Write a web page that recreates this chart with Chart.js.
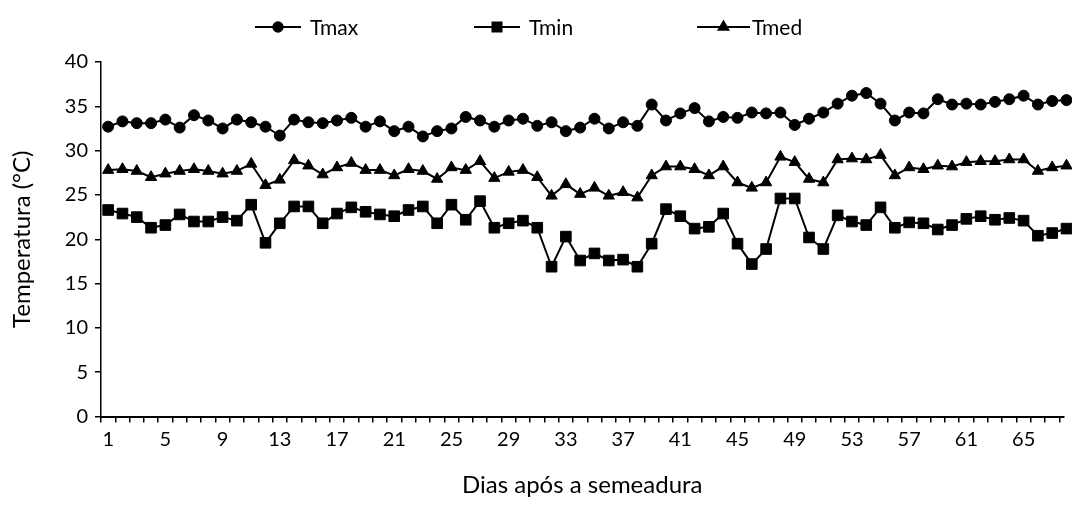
<!DOCTYPE html>
<html>
<head>
<meta charset="utf-8">
<title>Temperatura do ar</title>
<script src="https://cdn.jsdelivr.net/npm/chart.js@4.4.1/dist/chart.umd.min.js"></script>
<style>
  html, body { margin: 0; padding: 0; background: #fff; overflow: hidden; }
  #wrap { position: relative; width: 1072px; height: 505px; }
</style>
</head>
<body>
<div id="wrap"><canvas id="tempChart" width="1072" height="505"></canvas></div>
<script>
// dias após a semeadura
const days = [
  1, 2, 3, 4, 5, 6, 7, 8, 9, 10, 11, 12, 13, 14, 15, 16, 17,
  18, 19, 20, 21, 22, 23, 24, 25, 26, 27, 28, 29, 30, 31, 32, 33, 34,
  35, 36, 37, 38, 39, 40, 41, 42, 43, 44, 45, 46, 47, 48, 49, 50, 51,
  52, 53, 54, 55, 56, 57, 58, 59, 60, 61, 62, 63, 64, 65, 66, 67, 68
];
const dayTicks = [1, 5, 9, 13, 17, 21, 25, 29, 33, 37, 41, 45, 49, 53, 57, 61, 65];
const tempTicks = [0, 5, 10, 15, 20, 25, 30, 35, 40];

const tmax = [
  32.7, 33.3, 33.1, 33.1, 33.5, 32.6, 34.0, 33.4, 32.5, 33.5, 33.2, 32.7, 31.7, 33.5, 33.2, 33.1, 33.4,
  33.7, 32.7, 33.3, 32.2, 32.7, 31.6, 32.2, 32.5, 33.8, 33.4, 32.7, 33.4, 33.6, 32.8, 33.2, 32.2, 32.6,
  33.6, 32.5, 33.2, 32.8, 35.2, 33.4, 34.2, 34.8, 33.3, 33.8, 33.7, 34.3, 34.2, 34.3, 32.9, 33.6, 34.3,
  35.3, 36.2, 36.5, 35.3, 33.4, 34.3, 34.2, 35.8, 35.2, 35.3, 35.2, 35.5, 35.8, 36.2, 35.2, 35.6, 35.7
];
const tmin = [
  23.3, 22.9, 22.5, 21.3, 21.6, 22.8, 22.0, 22.0, 22.5, 22.1, 23.9, 19.6, 21.8, 23.7, 23.7, 21.8, 22.9,
  23.6, 23.1, 22.8, 22.6, 23.3, 23.7, 21.8, 23.9, 22.2, 24.3, 21.3, 21.8, 22.1, 21.3, 16.9, 20.3, 17.6,
  18.4, 17.6, 17.7, 16.9, 19.5, 23.4, 22.6, 21.2, 21.4, 22.9, 19.5, 17.2, 18.9, 24.6, 24.6, 20.2, 18.9,
  22.7, 22.0, 21.6, 23.6, 21.3, 21.9, 21.8, 21.1, 21.6, 22.3, 22.6, 22.2, 22.4, 22.1, 20.4, 20.7, 21.2
];
const tmed = [
  27.8, 27.9, 27.7, 27.0, 27.4, 27.7, 27.9, 27.7, 27.4, 27.7, 28.5, 26.1, 26.7, 28.9, 28.3, 27.3, 28.1,
  28.6, 27.8, 27.8, 27.2, 27.9, 27.7, 26.8, 28.1, 27.8, 28.8, 26.9, 27.6, 27.8, 27.0, 24.9, 26.2, 25.1,
  25.8, 24.9, 25.3, 24.7, 27.2, 28.2, 28.2, 27.9, 27.2, 28.2, 26.4, 25.8, 26.4, 29.3, 28.7, 26.8, 26.4,
  29.0, 29.1, 29.0, 29.5, 27.2, 28.1, 27.9, 28.3, 28.2, 28.7, 28.8, 28.8, 29.0, 29.0, 27.7, 28.1, 28.3
];

const FONT = "Lato, 'Open Sans', sans-serif";
Chart.defaults.font.family = FONT;
Chart.defaults.color = '#000';

// legenda em linha: traço + marcador + nome da série
const lineLegend = {
  id: 'lineLegend',
  afterDraw(chart, args, opts) {
    const ctx = chart.ctx;
    ctx.save();
    ctx.font = opts.fontSize + 'px ' + FONT;
    ctx.textBaseline = 'middle';
    chart.data.datasets.forEach((ds, i) => {
      const it = opts.items[i];
      const y = opts.y;
      ctx.strokeStyle = '#000';
      ctx.fillStyle = '#000';
      ctx.lineWidth = 2;
      ctx.beginPath();
      ctx.moveTo(it.x, y);
      ctx.lineTo(it.x + it.len, y);
      ctx.stroke();
      Chart.helpers.drawPoint(ctx, {
        pointStyle: ds.pointStyle, radius: ds.pointRadius * 0.85, borderWidth: 1, rotation: 0
      }, it.x + it.len / 2, y);
      ctx.fillText(ds.label, it.x + it.len + it.gap, y + 1);
    });
    ctx.restore();
  }
};

const serie = (label, data, style, radius) => ({
  label, data,
  borderColor: '#000',
  backgroundColor: '#000',
  borderWidth: 2,
  pointStyle: style,
  pointRadius: radius,
  pointBackgroundColor: '#000',
  pointBorderColor: '#000',
  pointBorderWidth: 1,
  tension: 0,
  clip: false
});

new Chart(document.getElementById('tempChart'), {
  type: 'line',
  data: {
    labels: days,
    datasets: [
      serie('Tmax', tmax, 'circle', 5.5),
      serie('Tmin', tmin, 'rect', 7.5),
      serie('Tmed', tmed, 'triangle', 6.5)
    ]
  },
  options: {
    responsive: false,
    animation: false,
    layout: { padding: { top: 62, right: 0, bottom: 0, left: 0 } },
    plugins: {
      legend: { display: false },
      tooltip: { enabled: false },
      lineLegend: {
        y: 27,
        fontSize: 21,
        items: [
          { x: 255, len: 46, gap: 9 },
          { x: 474, len: 46, gap: 9 },
          { x: 697, len: 53, gap: 2 }
        ]
      }
    },
    scales: {
      x: {
        type: 'linear',
        min: 0.5,
        max: 67.79,
        afterBuildTicks: s => { s.ticks = days.map(d => ({ value: d - 0.5 })); },
        afterFit: s => { s.height = 88.5; },
        ticks: {
          autoSkip: false,
          maxRotation: 0,
          minRotation: 0,
          labelOffset: 7.2,
          padding: 5,
          font: { size: 20 },
          callback: v => dayTicks.includes(v + 0.5) ? String(v + 0.5) : ''
        },
        grid: { drawOnChartArea: false, tickLength: 6, color: '#000', lineWidth: 1.5 },
        border: { color: '#000', width: 2 },
        title: { display: true, text: 'Dias após a semeadura', font: { size: 24 }, padding: { top: 2, bottom: 5 } }
      },
      y: {
        min: 0,
        max: 40,
        afterBuildTicks: s => { s.ticks = tempTicks.map(v => ({ value: v })); },
        afterFit: s => { s.width = 101; },
        ticks: { padding: 7, font: { size: 20 } },
        grid: { drawOnChartArea: false, tickLength: 6, color: '#000', lineWidth: 1.5 },
        border: { color: '#000', width: 1.5 },
        title: { display: true, text: 'Temperatura (°C)', font: { size: 24 }, padding: { top: 8, bottom: 0 } }
      }
    }
  },
  plugins: [lineLegend]
});
</script>
</body>
</html>
